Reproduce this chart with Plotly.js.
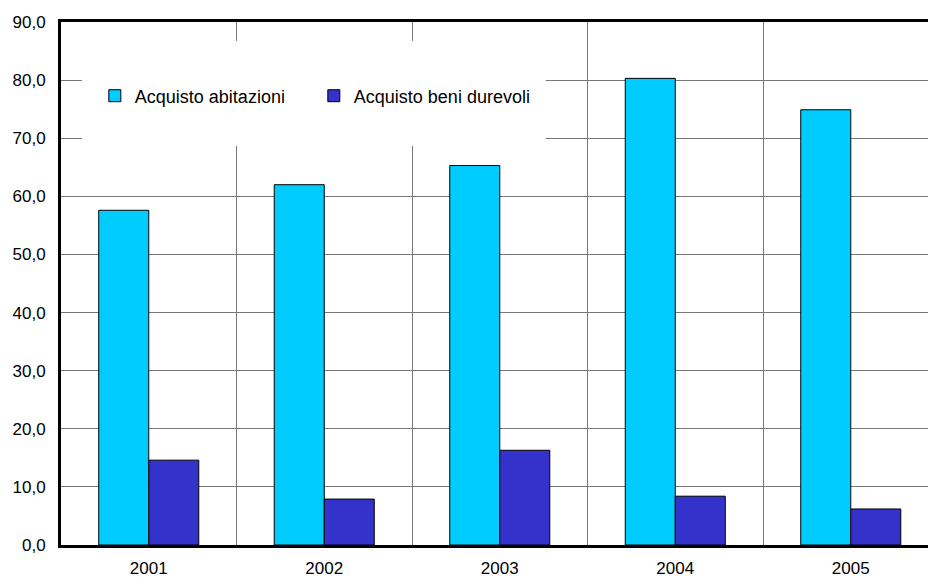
<!DOCTYPE html>
<html>
<head>
<meta charset="utf-8">
<script src="https://cdn.plot.ly/plotly-3.0.1.min.js"></script>
<style>html,body{margin:0;padding:0;background:#fff;}#chart{width:928px;height:579px;}</style>
</head>
<body>
<div id="chart"></div>
<script>
const years = ["2001", "2002", "2003", "2004", "2005"];
const abitazioni = [57.6, 62.0, 65.3, 80.3, 74.9];
const beniDurevoli = [14.6, 7.9, 16.3, 8.4, 6.2];
const seriesNames = ["Acquisto abitazioni", "Acquisto beni durevoli"];
const yTicks = [0, 10, 20, 30, 40, 50, 60, 70, 80, 90];

const font = "Liberation Sans, Arial, sans-serif";

const traces = [
  {type: "bar", name: seriesNames[0], x: years, y: abitazioni,
   marker: {color: "#00CCFF", line: {color: "#000000", width: 1}}},
  {type: "bar", name: seriesNames[1], x: years, y: beniDurevoli,
   marker: {color: "#3333CC", line: {color: "#000000", width: 1}}}
];

const layout = {
  width: 928, height: 579,
  margin: {l: 61, r: 0, t: 22, b: 34, pad: 0},
  paper_bgcolor: "#ffffff", plot_bgcolor: "#ffffff",
  separators: ",.",
  barmode: "group", bargap: 0.43, bargroupgap: 0,
  font: {family: font, size: 17, color: "#000"},
  showlegend: true,
  legend: {orientation: "h", x: 0.039, xanchor: "left", y: 0.8585, yanchor: "middle",
           bgcolor: "rgba(0,0,0,0)", borderwidth: 0, font: {family: font, size: 18, color: "#000"},
           entrywidth: 174, entrywidthmode: "pixels", traceorder: "normal"},
  xaxis: {type: "category", range: [-0.5, 4.44], tickson: "boundaries",
          showgrid: true, gridcolor: "#777777", gridwidth: 1,
          showline: true, linecolor: "#000", linewidth: 3, mirror: true,
          ticks: "", ticklabelstandoff: 6, tickfont: {family: font, size: 17, color: "#000"},
          zeroline: false, fixedrange: true},
  yaxis: {range: [0, 90], tickvals: yTicks, tickformat: ".1f",
          showgrid: true, gridcolor: "#777777", gridwidth: 1,
          showline: true, linecolor: "#000", linewidth: 3, mirror: false,
          ticks: "", ticklabelstandoff: 9, tickfont: {family: font, size: 17, color: "#000"},
          zeroline: false, fixedrange: true},
  shapes: [{type: "rect", xref: "paper", yref: "paper", layer: "above",
            x0: 0.0242, x1: 0.559, y0: 0.763, y1: 0.9637,
            fillcolor: "#ffffff", line: {width: 0}}]
};

Plotly.newPlot("chart", traces, layout, {displayModeBar: false, staticPlot: true});
</script>
</body>
</html>
